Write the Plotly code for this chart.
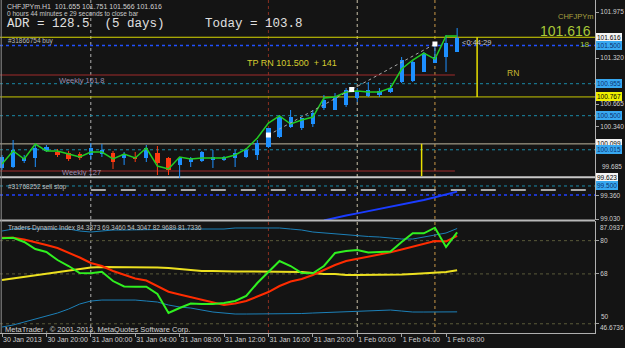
import plotly.graph_objects as go
from plotly.subplots import make_subplots

# ---------------- data ----------------
bars = list(range(42))
time_ticks = [0, 4, 8, 12, 16, 20, 24, 28, 32, 36, 40]
time_labels = ["30 Jan 2013", "30 Jan 20:00", "31 Jan 00:00", "31 Jan 04:00", "31 Jan 08:00",
               "31 Jan 12:00", "31 Jan 16:00", "31 Jan 20:00", "1 Feb 00:00", "1 Feb 04:00", "1 Feb 08:00"]

opens = [99.756, 99.770, 99.855, 99.898, 99.998, 99.983, 99.969, 99.955, 99.941, 99.955, 99.969, 99.898,
         99.912, 99.898, 99.969, 99.898, 99.799, 99.841, 99.855, 99.870, 99.870, 99.898, 99.912, 99.941,
         100.055, 100.197, 100.339, 100.325, 100.382, 100.609, 100.581, 100.652, 100.752, 100.780, 100.794,
         100.837, 100.979, 100.993, 101.122, 101.250, 101.335, 101.406]
highs = [99.941, 100.154, 99.941, 100.083, 100.083, 100.026, 99.998, 99.983, 100.112, 100.097, 99.998, 99.983,
         99.983, 100.083, 100.069, 99.912, 99.912, 99.912, 99.998, 100.012, 99.927, 100.012, 100.040, 100.154,
         100.325, 100.510, 100.581, 100.467, 100.581, 100.794, 100.823, 100.894, 100.894, 100.979, 100.894,
         100.937, 101.335, 101.292, 101.406, 101.548, 101.648, 101.747]
lows = [99.728, 99.756, 99.827, 99.770, 99.983, 99.912, 99.855, 99.870, 99.870, 99.912, 99.742, 99.799,
        99.841, 99.841, 99.656, 99.656, 99.614, 99.770, 99.841, 99.756, 99.855, 99.770, 99.898, 99.870,
        100.040, 100.183, 100.325, 100.296, 100.339, 100.581, 100.581, 100.624, 100.695, 100.766, 100.766,
        100.823, 100.965, 100.979, 101.122, 101.250, 101.122, 101.406]
closes = [99.912, 100.012, 99.898, 100.040, 100.055, 99.941, 99.884, 99.898, 100.040, 100.012, 99.841, 99.955,
          99.884, 100.040, 99.827, 99.728, 99.898, 99.898, 99.983, 99.912, 99.912, 99.969, 100.012, 100.112,
          100.325, 100.481, 100.481, 100.467, 100.538, 100.723, 100.766, 100.865, 100.837, 100.865, 100.851,
          100.894, 101.292, 101.264, 101.392, 101.335, 101.534, 101.605]
ma_line = [99.813, 99.998, 99.884, 100.097, 99.998, 99.998, 99.955, 99.912, 99.983, 99.983, 99.884, 99.955,
           99.898, 100.040, 99.784, 99.742, 99.912, 99.884, 99.898, 99.898, 99.898, 99.941, 100.026, 100.183,
           100.396, 100.496, 100.382, 100.439, 100.481, 100.752, 100.766, 100.837, 100.851, 100.837, 100.837,
           100.894, 101.164, 101.292, 101.392, 101.306, 101.634, 101.634]

trend_x = [24, 31.5, 39]
trend_y = [100.225, 100.873, 101.520]

stop_x = [29, 30, 31, 32, 33, 34, 35, 36, 37, 38, 39, 40, 41]
stop_y = [99.01, 99.05, 99.08, 99.11, 99.14, 99.17, 99.20, 99.23, 99.26, 99.30, 99.34, 99.38, 99.42]

tdi_up = [83.48, 84.20, 84.57, 84.20, 84.20, 84.20, 84.20, 83.48, 83.12, 83.48, 83.84, 83.84, 83.84, 83.84,
          84.02, 84.20, 84.20, 84.20, 84.20, 84.20, 84.20, 84.57, 84.57, 84.75, 84.75, 84.57, 84.20, 83.84,
          83.12, 82.76, 82.40, 82.04, 81.68, 81.50, 81.31, 80.95, 80.59, 80.59, 81.31, 82.04, 82.76, 84.39]
tdi_mid = [65.79, 66.34, 66.88, 67.42, 67.96, 68.68, 69.22, 69.76, 70.31, 70.49, 70.49, 70.49, 70.49, 70.49,
           70.31, 70.13, 69.76, 69.40, 69.04, 69.04, 68.86, 68.86, 68.86, 68.86, 68.86, 68.86, 68.68, 68.68,
           68.32, 67.96, 67.96, 67.60, 67.60, 67.60, 67.60, 67.60, 67.78, 67.96, 68.14, 68.32, 68.68, 69.35]
tdi_low = [48.83, 49.55, 50.63, 51.71, 52.80, 53.88, 55.32, 57.13, 58.21, 58.57, 58.57, 58.57, 58.57, 58.21,
           57.85, 56.77, 56.05, 55.68, 54.96, 54.24, 53.88, 53.52, 53.52, 53.52, 53.52, 53.52, 53.52, 53.70,
           53.88, 54.06, 54.24, 54.42, 54.60, 54.78, 54.96, 54.96, 54.60, 54.24, 54.24, 54.24, 54.24, 54.30]
tdi_signal = [81.06, 81.06, 80.41, 79.51, 78.43, 77.34, 75.72, 73.92, 71.93, 70.85, 69.04, 67.60, 66.34, 65.61,
              63.63, 61.57, 60.56, 59.58, 58.57, 57.67, 56.77, 57.31, 58.21, 59.84, 61.46, 63.63, 65.25, 66.15,
              67.60, 69.40, 71.21, 72.65, 73.37, 74.28, 75.00, 75.79, 76.80, 77.82, 78.79, 79.87, 79.69, 81.73]
tdi_rsi = [80.84, 81.06, 79.51, 76.98, 75.90, 73.01, 70.85, 68.32, 68.21, 68.79, 65.43, 63.45, 63.37, 63.37,
           60.74, 53.88, 55.68, 57.31, 57.13, 57.13, 57.49, 58.21, 60.02, 64.71, 68.68, 72.65, 70.85, 68.32,
           68.21, 70.85, 75.54, 76.26, 76.62, 75.72, 75.90, 76.08, 79.51, 82.65, 82.65, 84.67, 77.70, 82.97]

price_ticks = [101.975, 101.320, 100.665, 100.340, 99.360, 99.030]
price_tick_text = ["101.975", "101.320", "100.665", "100.340", "99.360", "99.030"]
tdi_levels = [80, 68, 50]
tdi_tick_text = ["80", "68", ""]

# price level lines: (price, colour, dash, width, x_start, x_end)
level_lines = [
    (101.616, "#d8d800", "solid", 1, None, None),
    (101.500, "#2050ff", "dot", 1.5, None, None),
    (101.079, "#a02a2a", "solid", 1, None, 40.8),
    (100.955, "#1a8aa8", "dot", 1, None, None),
    (100.767, "#c8c800", "solid", 1, None, None),
    (100.500, "#1a8aa8", "dot", 1, None, None),
    (100.099, "#c0b8a0", "solid", 1, None, None),
    (100.015, "#1a8aa8", "dot", 1, None, None),
    (99.713, "#a02a2a", "solid", 1, None, 40.8),
    (99.623, "#c8c8c8", "solid", 2, None, None),
    (99.500, "#1a8aa8", "dot", 1, None, None),
    (99.443, "#a8a8a8", "longdash", 2, 8, None),
    (99.372, "#2040ff", "dot", 1.5, None, None),
]
# price boxes on the right scale: (text, price, background, text colour)
price_boxes = [
    ("101.616", 101.616, "#f4f4f4", "#000000"),
    ("101.500", 101.500, "#38a8f0", "#0a3070"),
    ("100.955", 100.955, "#38a8f0", "#0a3070"),
    ("100.767", 100.767, "#f0f000", "#000000"),
    ("100.500", 100.500, "#38a8f0", "#0a3070"),
    ("100.099", 100.099, "#f4f4f4", "#000000"),
    ("100.015", 100.015, "#38a8f0", "#0a3070"),
    ("99.623", 99.623, "#f4f4f4", "#000000"),
    ("99.500", 99.500, "#38a8f0", "#0a3070"),
]
# vertical separators: (bar, colour)
vlines = [(8, "#b0b0b0"), (24, "#8a3020"), (32, "#c8c0a8"), (39, "#c89848")]

# ---------------- figure ----------------
W, H = 625, 348
ML, MR, MT, MB = 0, 30, 0, 15
PW, PH = W - ML - MR, H - MT - MB
BG = "#141414"
FONT = "Liberation Sans"
RFS = 6.5  # right scale font size

def px(x):
    return x / PW

def py(y):
    return (PH - y) / PH

X_RANGE = [-0.18, 53.42]

fig = make_subplots(rows=2, cols=1, shared_xaxes=True)

# candles
up = [c >= o for o, c in zip(opens, closes)]
for is_up, col in [(True, "#1e90ff"), (False, "#ff3a10")]:
    wx, wy = [], []
    for i in bars:
        if up[i] == is_up:
            wx += [i, i, None]
            wy += [lows[i], highs[i], None]
    fig.add_trace(go.Scatter(x=wx, y=wy, mode="lines", line=dict(color=col, width=1),
                             hoverinfo="skip", showlegend=False), row=1, col=1)
fig.add_trace(go.Bar(x=bars, y=[c - o for o, c in zip(opens, closes)], base=opens, width=0.38,
                     marker=dict(color=["#1e90ff" if u else "#ff3a10" for u in up], line=dict(width=0)),
                     showlegend=False), row=1, col=1)
fig.add_trace(go.Scatter(x=bars, y=ma_line, mode="lines", line=dict(color="#22cc22", width=1.5),
                         showlegend=False), row=1, col=1)
fig.add_trace(go.Scatter(x=trend_x, y=trend_y, mode="lines+markers",
                         line=dict(color="#a8a8a8", width=1, dash="dot"),
                         marker=dict(symbol="square", size=5, color="#ffffff"),
                         showlegend=False), row=1, col=1)
fig.add_trace(go.Scatter(x=stop_x, y=stop_y, mode="lines", line=dict(color="#1a3cff", width=2),
                         showlegend=False), row=1, col=1)

# TDI
fig.add_trace(go.Scatter(x=bars, y=tdi_up, mode="lines", line=dict(color="#1c80b8", width=1), showlegend=False), row=2, col=1)
fig.add_trace(go.Scatter(x=bars, y=tdi_low, mode="lines", line=dict(color="#1c80b8", width=1), showlegend=False), row=2, col=1)
fig.add_trace(go.Scatter(x=bars, y=tdi_mid, mode="lines", line=dict(color="#ece020", width=2), showlegend=False), row=2, col=1)
fig.add_trace(go.Scatter(x=bars, y=tdi_signal, mode="lines", line=dict(color="#ff2c00", width=2), showlegend=False), row=2, col=1)
fig.add_trace(go.Scatter(x=bars, y=tdi_rsi, mode="lines", line=dict(color="#30f020", width=2), showlegend=False), row=2, col=1)

shapes = []
for price, col, dash, w, xs, xe in level_lines:
    shapes.append(dict(type="line", xref="x", yref="y", layer="below",
                       x0=X_RANGE[0] if xs is None else xs, x1=X_RANGE[1] if xe is None else xe,
                       y0=price, y1=price, line=dict(color=col, width=w, dash=dash)))
# vertical yellow markers
shapes.append(dict(type="line", xref="x", yref="y", x0=42.8, x1=42.8, y0=101.616, y1=100.767,
                   line=dict(color="#e8e000", width=1.5)))
shapes.append(dict(type="line", xref="x", yref="y", x0=37.8, x1=37.8, y0=100.10, y1=99.64,
                   line=dict(color="#e8e000", width=1.5)))
for lv in tdi_levels:
    shapes.append(dict(type="line", xref="x2", yref="y2", layer="below", x0=X_RANGE[0], x1=X_RANGE[1],
                       y0=lv, y1=lv, line=dict(color="#5a5a3a", width=1, dash="dot")))
for b, col in vlines:
    shapes.append(dict(type="line", xref="x", yref="paper", layer="below", x0=b, x1=b, y0=0, y1=1,
                       line=dict(color=col, width=1, dash="dot")))
# panel borders
shapes.append(dict(type="line", xref="paper", yref="paper", x0=0, x1=1, y0=py(220.5), y1=py(220.5),
                   line=dict(color="#b8b8b8", width=2)))
shapes.append(dict(type="line", xref="paper", yref="paper", x0=0.002, x1=0.002, y0=0, y1=1,
                   line=dict(color="#909090", width=1)))

ann = []
def txt(t, x, y, size, color, family=FONT, xanchor="left"):
    ann.append(dict(text=t, x=px(x), y=py(y), xref="paper", yref="paper", showarrow=False,
                    xanchor=xanchor, yanchor="middle", font=dict(size=size, color=color, family=family)))

txt("CHFJPYm.H1  101.655 101.751 101.566 101.616", 5, 6, 7, "#d0d0d0")
txt("0 hours 44 minutes e 29 seconds to close bar", 5, 13.5, 6.5, "#c8c8c8")
txt("ADR = 128.5  (5 days)", 5, 23.5, 12.5, "#e0e0e0", family="Liberation Mono")
txt("Today = 103.8", 203, 23.5, 12.5, "#e0e0e0", family="Liberation Mono")
txt("#31866754 buy", 6, 41, 6.5, "#b8b8b8")
txt("Weekly 161.8", 57, 80, 7.5, "#9c8cae")
txt("TP RN 101.500  + 141", 245, 63, 9, "#d4cc30")
txt("CHFJPYm", 556, 17, 7.5, "#a8a040")
txt("101.616", 538, 31, 14, "#a8c838")
txt("<0:44:29", 460, 42, 7.5, "#c8c8c8")
txt("18", 578, 44, 8, "#a8c838")
txt("RN", 505, 73, 8.5, "#c8b830")
txt("Weekly 127", 60, 173, 7.5, "#9c8cae")
txt("#31768252 sell stop", 6, 187, 6.5, "#c0c0c0")
txt("Traders Dynamic Index 84.3873 69.3460 54.3047 82.9689 81.7336", 6, 228, 6.5, "#c0c0c0")
txt("MetaTrader , \u00a9 2001-2013, MetaQuotes Software Corp.", 3, 329, 7.5, "#d0d0d0")
# right-scale labels shifted off their ticks (as in the reference)
txt("99.685", 600, 166, RFS, "#d0d0d0")
txt("87.0937", 598, 227, RFS, "#d0d0d0")
txt("50", 599, 316, RFS, "#d0d0d0")
txt("46.6736", 598, 327, RFS, "#d0d0d0")

for t, p, bg, fg in price_boxes:
    ann.append(dict(text=t, x=596 / PW, y=p, xref="paper", yref="y", showarrow=False,
                    xanchor="left", yanchor="middle", bgcolor=bg, borderpad=0,
                    bordercolor=bg, borderwidth=1,
                    font=dict(size=RFS, color=fg, family=FONT)))

axis_common = dict(showgrid=False, zeroline=False, automargin=False)
fig.update_layout(
    width=W, height=H, margin=dict(l=ML, r=MR, t=MT, b=MB),
    paper_bgcolor=BG, plot_bgcolor=BG, showlegend=False, bargap=0,
    font=dict(family=FONT, size=7, color="#d0d0d0"),
    shapes=shapes, annotations=ann,
    xaxis=dict(range=X_RANGE, showticklabels=False, ticks="", showline=False, **axis_common),
    xaxis2=dict(range=X_RANGE, tickvals=time_ticks, ticktext=time_labels, ticks="outside", ticklen=3,
                tickangle=0, tickcolor="#a0a0a0", ticklabelposition="outside right", showline=True,
                linecolor="#b0b0b0", linewidth=1, tickfont=dict(size=7, color="#d0d0d0"), **axis_common),
    yaxis=dict(domain=[py(220), 1], range=[99.016, 102.146], side="right", tickvals=price_ticks,
               ticktext=price_tick_text, ticks="outside", ticklen=3, tickcolor="#a0a0a0",
               showline=True, linecolor="#b0b0b0", tickfont=dict(size=RFS, color="#d0d0d0"), **axis_common),
    yaxis2=dict(domain=[0, py(221)], range=[46.6736, 87.0937], side="right", tickvals=tdi_levels,
                ticktext=tdi_tick_text, ticks="outside", ticklen=3, tickcolor="#a0a0a0",
                showline=True, linecolor="#b0b0b0", tickfont=dict(size=RFS, color="#d0d0d0"), **axis_common),
)

fig.write_html("out.html", config={"displayModeBar": False})
